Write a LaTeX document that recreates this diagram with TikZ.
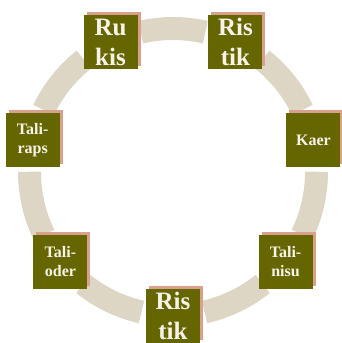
\documentclass[tikz,border=0pt]{standalone}
\usepackage{fontspec}
\setmainfont{Liberation Serif}
\usepackage{tikz}
\usetikzlibrary{shadows}

\definecolor{olivebox}{HTML}{666600}
\definecolor{ringbeige}{HTML}{DED6C4}
\definecolor{shadowpink}{HTML}{D9A18C}
\definecolor{boxtext}{HTML}{F7F3EA}

\begin{document}
\begin{tikzpicture}[x=1pt,y=1pt]
        \tikzset{
        item/.style={rectangle, minimum size=54pt, inner sep=0pt, fill=olivebox,
        text=boxtext, align=center,
        copy shadow={shadow xshift=3pt, shadow yshift=3pt, fill=shadowpink, draw=none}},
        big/.style={font=\bfseries\fontsize{25}{30}\selectfont},
        small/.style={font=\bfseries\fontsize{16}{18.5}\selectfont},
        seg/.style={draw=ringbeige, line width=23pt}
        }
        \useasboundingbox (0,0) rectangle (342,343);
        \coordinate (c) at (173,171);

        % ring pieces between the boxes
        \draw[seg] ([shift={(c)}]282.7:143.5) arc[start angle=282.7, end angle=308.7, radius=143.5];
        \draw[seg] ([shift={(c)}]334.1:143.5) arc[start angle=334.1, end angle=360.1, radius=143.5];
        \draw[seg] ([shift={(c)}]25.6:143.5) arc[start angle=25.6, end angle=51.6, radius=143.5];
        \draw[seg] ([shift={(c)}]77:143.5) arc[start angle=77, end angle=103, radius=143.5];
        \draw[seg] ([shift={(c)}]128.4:143.5) arc[start angle=128.4, end angle=154.4, radius=143.5];
        \draw[seg] ([shift={(c)}]179.9:143.5) arc[start angle=179.9, end angle=205.9, radius=143.5];
        \draw[seg] ([shift={(c)}]231.3:143.5) arc[start angle=231.3, end angle=257.3, radius=143.5];

        % boxes
        \node[item, big] (ristiktop) at ([shift={(c)}]64.29:144) {Ris\\tik};
        \node[item, big] (rukis) at ([shift={(c)}]115.71:144) {Ru\\kis};
        \node[item, small] (taliraps) at ([shift={(c)}]167.14:144) {Tali-\\raps};
        \node[item, small] (talioder) at ([shift={(c)}]218.57:144) {Tali-\\oder};
        \node[item, big] (ristikbot) at ([shift={(c)}]270:144) {Ris\\tik};
        \node[item, small] (talinisu) at ([shift={(c)}]321.43:144) {Tali-\\nisu};
        \node[item, small] (kaer) at ([shift={(c)}]12.86:144) {Kaer};
\end{tikzpicture}
\end{document}
